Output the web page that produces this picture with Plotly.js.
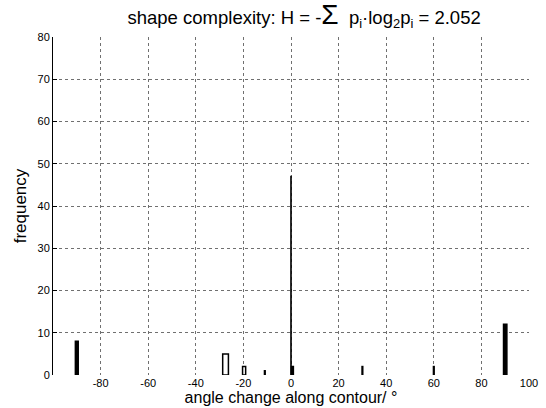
<!DOCTYPE html>
<html>
<head>
<meta charset="utf-8">
<script src="https://cdn.plot.ly/plotly-3.0.1.min.js"></script>
<style>html,body{margin:0;padding:0;background:#fff;}#chart{width:546px;height:408px;}</style>
</head>
<body>
<div id="chart"></div>
<script>
// angle bins (degrees), their counts and bin widths (degrees)
const angles   = [-90, -27.5, -19.7, -11, 0, 0.6, 30, 60, 90];
const counts   = [8, 5, 2, 1, 47, 2, 2, 2, 12];
const binWidth = [1.2, 2.4, 1.3, 0.3, 0.05, 0.8, 0.3, 0.3, 1.4];
const openBin  = [false, true, true, false, false, false, false, false, false];
const xTicks = [-80, -60, -40, -20, 0, 20, 40, 60, 80, 100];
const yTicks = [0, 10, 20, 30, 40, 50, 60, 70, 80];

const trace = {
  type: 'bar',
  x: angles,
  y: counts,
  width: binWidth,
  marker: {
    color: openBin.map(o => o ? '#ffffff' : '#000000'),
    line: {color: '#000000', width: 1.5}
  },
  hoverinfo: 'x+y'
};

const layout = {
  width: 546, height: 408,
  margin: {l: 53, r: 17, t: 37, b: 33},
  paper_bgcolor: '#ffffff', plot_bgcolor: '#ffffff',
  font: {family: 'Liberation Sans, Arial, sans-serif', color: '#000', size: 11},
  showlegend: false,
  title: {
    text: 'shape complexity: H = -<span style="font-size:28px">Σ</span>  p<sub>i</sub>·log<sub>2</sub>p<sub>i</sub> = 2.052',
    font: {size: 18.5, family: 'Liberation Sans, Arial, sans-serif', color: '#000'},
    x: 0.557, xanchor: 'center', y: 0.957, yanchor: 'middle'
  },
  xaxis: {
    range: [-100, 100],
    tickvals: xTicks, ticktext: xTicks.map(String),
    showgrid: true, gridcolor: '#707070', griddash: 'dot', gridwidth: 1,
    zeroline: false, showline: false, ticks: '',
    tickfont: {size: 11}, ticklabelstandoff: 0,
    title: {text: 'angle change along contour/ °', font: {size: 16}, standoff: 1}
  },
  yaxis: {
    range: [0, 80],
    tickvals: yTicks, ticktext: yTicks.map(String),
    showgrid: true, gridcolor: '#707070', griddash: 'dot', gridwidth: 1,
    zeroline: false, showline: true, linecolor: '#000', linewidth: 1,
    ticks: 'inside', ticklen: 4, tickcolor: '#000',
    tickfont: {size: 11},
    title: {text: 'frequency', font: {size: 17}, standoff: 6}
  },
  bargap: 0
};

Plotly.newPlot('chart', [trace], layout, {displayModeBar: false, staticPlot: true});
</script>
</body>
</html>
